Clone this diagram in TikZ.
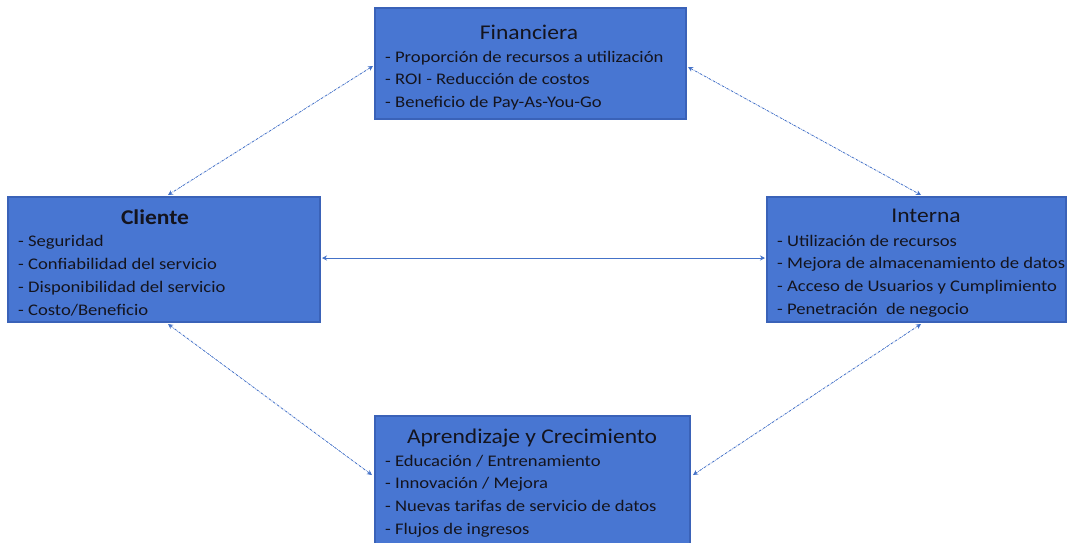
\documentclass[tikz,border=0pt]{standalone}
\usepackage{fontspec}
\setmainfont{Carlito}
\newfontfamily\entryfont[FakeStretch=1.15]{Carlito}
\newfontfamily\headfont[FakeStretch=1.12]{Carlito}
\usetikzlibrary{arrows.meta}
\definecolor{boxfill}{RGB}{72,118,210}
\definecolor{boxline}{RGB}{58,98,184}
\definecolor{linkblue}{RGB}{68,114,200}
\definecolor{ink}{RGB}{20,20,30}
\tikzset{
  panel/.style={draw=boxline, line width=1.2pt, fill=boxfill, inner sep=0pt, outer sep=0pt},
  heading/.style={text=ink, font=\headfont\fontsize{21}{21}\selectfont, anchor=base, inner sep=0pt},
  entry/.style={text=ink, font=\entryfont\fontsize{16.2}{16.2}\selectfont, anchor=base west, inner sep=0pt},
  link/.style={draw=linkblue, line width=0.8pt, {Stealth[length=5pt,width=5pt]}-{Stealth[length=5pt,width=5pt]}},
  dottedlink/.style={link, dash pattern=on 2.5pt off 1pt on 0.6pt off 1pt},
}
\begin{document}
\begin{tikzpicture}[x=1pt,y=-1pt]
\useasboundingbox (0,0) rectangle (1073,542);

% four panels
\node[panel, minimum width=311pt, minimum height=111pt] (fin) at (530.5,63.5) {};
\node[panel, minimum width=312pt, minimum height=125pt] (cli) at (164,259.5) {};
\node[panel, minimum width=299pt, minimum height=125pt] (int) at (916.5,259.5) {};
\node[panel, minimum width=315pt, minimum height=130pt] (apr) at (532.5,481) {};

% Financiera
\node[heading] (fin-t) at (529,39) {Financiera};
\foreach \t [count=\i] in {- Proporción de recursos a utilización,- ROI - Reducción de costos,- Beneficio de Pay-As-You-Go}
  \node[entry] (fin-\i) at (385,{62+22.5*(\i-1)}) {\t};

% Cliente
\node[heading, font=\headfont\bfseries\fontsize{21}{21}\selectfont] (cli-t) at (155,224) {Cliente};
\foreach \t [count=\i] in {- Seguridad,- Confiabilidad del servicio,- Disponibilidad del servicio,- Costo/Beneficio}
  \node[entry] (cli-\i) at (18,{246+23*(\i-1)}) {\t};

% Interna
\node[heading] (int-t) at (926,222) {Interna};
\foreach \t [count=\i] in {- Utilización de recursos,- Mejora de almacenamiento de datos,- Acceso de Usuarios y Cumplimiento,- Penetración\ \ de negocio}
  \node[entry] (int-\i) at (777,{246+22.7*(\i-1)}) {\t};

% Aprendizaje y Crecimiento
\node[heading] (apr-t) at (532,443) {Aprendizaje y Crecimiento};
\foreach \t [count=\i] in {- Educación / Entrenamiento,- Innovación / Mejora,- Nuevas tarifas de servicio de datos,- Flujos de ingresos}
  \node[entry] (apr-\i) at (385,{466+22.7*(\i-1)}) {\t};

% connectors
\coordinate (fw) at (373,66);
\coordinate (fe) at (688,67);
\coordinate (cn) at (168,195);
\coordinate (cs) at (168,324);
\coordinate (in) at (921,195);
\coordinate (is) at (921,324);
\coordinate (aw) at (372,475);
\coordinate (ae) at (693,475);
\draw[dottedlink] (fw) -- (cn);
\draw[dottedlink] (fe) -- (in);
\draw[dottedlink] (cs) -- (aw);
\draw[dottedlink] (is) -- (ae);
\path (cli.east) ++(2pt,1.5pt) coordinate (ce) (int.west) ++(-2pt,1.5pt) coordinate (iw);
\draw[link] (ce) -- (iw);
\end{tikzpicture}
\end{document}
